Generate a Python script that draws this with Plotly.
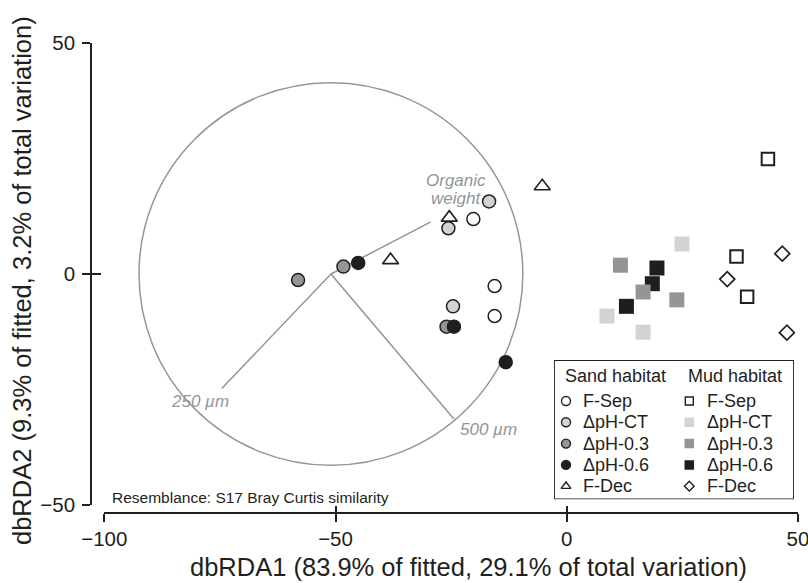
import plotly.graph_objects as go

# ---------------- data ----------------
sand_groups = ["F-Sep", "ΔpH-CT", "ΔpH-0.3", "ΔpH-0.6", "F-Dec"]
mud_groups = ["F-Sep", "ΔpH-CT", "ΔpH-0.3", "ΔpH-0.6", "F-Dec"]
legend_headers = ["Sand habitat", "Mud habitat"]

sand_fsep_x = [-20.2, -15.6, -15.6]
sand_fsep_y = [11.9, -2.6, -9.1]
sand_ct_x = [-16.8, -25.6, -24.6]
sand_ct_y = [15.7, 9.9, -7.0]
sand_03_x = [-58.1, -48.3, -26.0]
sand_03_y = [-1.3, 1.6, -11.4]
sand_06_x = [-45.1, -24.4, -13.2]
sand_06_y = [2.4, -11.4, -19.1]
sand_fdec_x = [-25.4, -5.3, -38.1]
sand_fdec_y = [12.2, 19.0, 3.0]

mud_fsep_x = [43.5, 36.7, 39.0]
mud_fsep_y = [24.9, 3.8, -4.9]
mud_ct_x = [24.9, 8.7, 16.5]
mud_ct_y = [6.5, -9.1, -12.6]
mud_03_x = [11.6, 16.5, 23.8]
mud_03_y = [1.9, -3.9, -5.6]
mud_06_x = [19.5, 18.5, 12.9]
mud_06_y = [1.3, -2.1, -7.0]
mud_fdec_x = [46.6, 34.7, 47.6]
mud_fdec_y = [4.4, -1.1, -12.7]

vector_labels = ["Organic weight", "250 µm", "500 µm"]
vector_x = [-29.4, -74.6, -24.4]
vector_y = [11.3, -24.8, -31.4]
circle_cx, circle_cy = -51.0, 0.0
circle_rx, circle_ry = 41.5, 41.4

x_ticks = [-100, -50, 0, 50]
y_ticks = [-50, 0, 50]
x_title = "dbRDA1 (83.9% of fitted, 29.1% of total variation)"
y_title = "dbRDA2 (9.3% of fitted, 3.2% of total variation)"
note = "Resemblance: S17 Bray Curtis similarity"

# ---------------- styles ----------------
FONT = "Liberation Sans, Arial, Helvetica, sans-serif"
DARK = "#231f20"
LIGHT = "#d1d3d4"
MID = "#939598"
BLACK = "#1e1e21"
WHITE = "#ffffff"

sand_style = {
    "F-Sep": dict(symbol="circle", color=WHITE, line=dict(color=DARK, width=1.5)),
    "ΔpH-CT": dict(symbol="circle", color=LIGHT, line=dict(color=DARK, width=1.5)),
    "ΔpH-0.3": dict(symbol="circle", color=MID, line=dict(color=DARK, width=1.5)),
    "ΔpH-0.6": dict(symbol="circle", color=BLACK, line=dict(color=DARK, width=1.5)),
    "F-Dec": dict(symbol="triangle-up", color=WHITE, line=dict(color=DARK, width=1.6)),
}
mud_style = {
    "F-Sep": dict(symbol="square", color=WHITE, line=dict(color=DARK, width=2)),
    "ΔpH-CT": dict(symbol="square", color=LIGHT, line=dict(color=LIGHT, width=0)),
    "ΔpH-0.3": dict(symbol="square", color=MID, line=dict(color=MID, width=0)),
    "ΔpH-0.6": dict(symbol="square", color=BLACK, line=dict(color=BLACK, width=0)),
    "F-Dec": dict(symbol="diamond", color=WHITE, line=dict(color=DARK, width=1.7)),
}
sand_size = {"F-Sep": 13, "ΔpH-CT": 13, "ΔpH-0.3": 13, "ΔpH-0.6": 13, "F-Dec": 14}
mud_size = {"F-Sep": 12.5, "ΔpH-CT": 15, "ΔpH-0.3": 15, "ΔpH-0.6": 15, "F-Dec": 11.5}

sand_data = {
    "F-Sep": (sand_fsep_x, sand_fsep_y),
    "ΔpH-CT": (sand_ct_x, sand_ct_y),
    "ΔpH-0.3": (sand_03_x, sand_03_y),
    "ΔpH-0.6": (sand_06_x, sand_06_y),
    "F-Dec": (sand_fdec_x, sand_fdec_y),
}
mud_data = {
    "F-Sep": (mud_fsep_x, mud_fsep_y),
    "ΔpH-CT": (mud_ct_x, mud_ct_y),
    "ΔpH-0.3": (mud_03_x, mud_03_y),
    "ΔpH-0.6": (mud_06_x, mud_06_y),
    "F-Dec": (mud_fdec_x, mud_fdec_y),
}
sand_order = ["F-Dec", "F-Sep", "ΔpH-CT", "ΔpH-0.3", "ΔpH-0.6"]
mud_order = ["F-Sep", "F-Dec", "ΔpH-0.6", "ΔpH-CT", "ΔpH-0.3"]

# ---------------- geometry ----------------
W, H = 808, 583
L, R, T, B = 91, 10, 43, 70
pw, ph = W - L - R, H - T - B


def px_x(p):
    return (p - L) / pw


def px_y(p):
    return (H - B - p) / ph


fig = go.Figure()

# vectors (under the points)
for lab, vx, vy in zip(vector_labels, vector_x, vector_y):
    fig.add_trace(go.Scatter(
        x=[circle_cx, vx], y=[circle_cy, vy], mode="lines",
        line=dict(color=MID, width=1.5), showlegend=False, hoverinfo="skip"))

for g in sand_order:
    xs, ys = sand_data[g]
    st = sand_style[g]
    fig.add_trace(go.Scatter(
        x=xs, y=ys, mode="markers", name="Sand " + g, showlegend=False,
        marker=dict(symbol=st["symbol"], color=st["color"], line=st["line"],
                    size=sand_size[g])))
for g in mud_order:
    xs, ys = mud_data[g]
    st = mud_style[g]
    fig.add_trace(go.Scatter(
        x=xs, y=ys, mode="markers", name="Mud " + g, showlegend=False,
        marker=dict(symbol=st["symbol"], color=st["color"], line=st["line"],
                    size=mud_size[g])))

# overlay axes carrying the inner half of the crossing ticks
fig.add_trace(go.Scatter(x=[None], y=[None], xaxis="x2", yaxis="y2",
                         showlegend=False, hoverinfo="skip"))

# ---------------- custom legend ----------------
LEG_W, LEG_H = 240, 139.3
col_sym = [12, 135.3]
col_txt = [26.5, 150.5]
row0, drow = 41, 21.3
legend_sym_size = {"circle": 9, "triangle-up": 8.5, "square": 9.5, "diamond": 7.5}

for ci, (groups, styles) in enumerate([(sand_groups, sand_style), (mud_groups, mud_style)]):
    for ri, g in enumerate(groups):
        st = styles[g]
        lw = st["line"]["width"]
        sz = legend_sym_size[st["symbol"]]
        if st["symbol"] == "square" and lw > 0:
            sz = 8
        fig.add_trace(go.Scatter(
            x=[col_sym[ci]], y=[row0 + ri * drow], xaxis="x3", yaxis="y3",
            mode="markers", showlegend=False, hoverinfo="skip",
            marker=dict(symbol=st["symbol"], color=st["color"], size=sz,
                        line=dict(color=st["line"]["color"], width=min(lw, 1.4)))))
        fig.add_annotation(
            x=col_txt[ci], y=row0 + ri * drow, xref="x3", yref="y3", text=g,
            showarrow=False, xanchor="left", yanchor="middle",
            font=dict(family=FONT, size=18, color=DARK))
    fig.add_annotation(
        x=[8.7, 131.7][ci], y=16, xref="x3", yref="y3", text=legend_headers[ci],
        showarrow=False, xanchor="left", yanchor="middle",
        font=dict(family=FONT, size=18, color=DARK))

fig.add_shape(type="rect", xref="x3", yref="y3", x0=0, x1=LEG_W, y0=0, y1=LEG_H,
              line=dict(color=DARK, width=1.8), fillcolor="rgba(0,0,0,0)")

# circle of correlations
fig.add_shape(type="circle", xref="x", yref="y", layer="below",
              x0=circle_cx - circle_rx, x1=circle_cx + circle_rx,
              y0=circle_cy - circle_ry, y1=circle_cy + circle_ry,
              line=dict(color=MID, width=1.5))

# vector labels
lab_font = dict(family=FONT, size=17, color=MID)
org_words = vector_labels[0].split(" ")
fig.add_annotation(x=-23.9, y=20.3, text="<i>%s</i>" % org_words[0], showarrow=False,
                   xanchor="center", yanchor="middle", font=lab_font)
fig.add_annotation(x=-23.9, y=16.3, text="<i>%s</i>" % org_words[1], showarrow=False,
                   xanchor="center", yanchor="middle", font=lab_font)
fig.add_annotation(x=-79.3, y=-27.6, text="<i>%s</i>" % vector_labels[1], showarrow=False,
                   xanchor="center", yanchor="middle", font=lab_font)
fig.add_annotation(x=-17.0, y=-33.6, text="<i>%s</i>" % vector_labels[2], showarrow=False,
                   xanchor="center", yanchor="middle", font=lab_font)

# resemblance note
fig.add_annotation(x=px_x(110), y=px_y(497.3), xref="paper", yref="paper", text=note,
                   showarrow=False, xanchor="left", yanchor="middle",
                   font=dict(family=FONT, size=15.5, color=DARK))

# axis titles
fig.add_annotation(x=px_x(468), y=px_y(567), xref="paper", yref="paper", text=x_title,
                   showarrow=False, xanchor="center", yanchor="middle",
                   font=dict(family=FONT, size=25.5, color=DARK))
fig.add_annotation(x=px_x(22), y=px_y(281), xref="paper", yref="paper", text=y_title,
                   showarrow=False, xanchor="center", yanchor="middle", textangle=-90,
                   font=dict(family=FONT, size=25.5, color=DARK))

axis_common = dict(showgrid=False, zeroline=False, anchor="free", position=0,
                   linecolor=DARK, linewidth=1.6, tickcolor=DARK, tickwidth=1.6,
                   ticklabeloverflow="allow",
                   tickfont=dict(family=FONT, size=20.5, color=DARK))
xdom = [px_x(104.3), 1]
ydom = [px_y(505), 1]

fig.update_layout(
    width=W, height=H, margin=dict(l=L, r=R, t=T, b=B, autoexpand=False),
    paper_bgcolor="white", plot_bgcolor="white", showlegend=False,
    xaxis=dict(domain=xdom, range=[-100, 50], tickvals=x_ticks, showline=True,
               ticks="outside", ticklen=8, **axis_common),
    yaxis=dict(domain=ydom, range=[-50, 50], tickvals=y_ticks, showline=True,
               ticks="outside", ticklen=8, ticklabelstandoff=3, **axis_common),
    xaxis2=dict(overlaying="x", domain=xdom, range=[-100, 50], tickvals=x_ticks,
                showline=False, ticks="inside", ticklen=7, showticklabels=False,
                **axis_common),
    yaxis2=dict(overlaying="y", domain=ydom, range=[-50, 50], tickvals=y_ticks,
                showline=False, ticks="inside", ticklen=9, showticklabels=False,
                **axis_common),
    xaxis3=dict(domain=[px_x(554), px_x(794)], range=[0, LEG_W], anchor="y3",
                visible=False, fixedrange=True),
    yaxis3=dict(domain=[px_y(499.3), px_y(360)], range=[LEG_H, 0], anchor="x3",
                visible=False, fixedrange=True),
)

fig.write_html(
    "out.html",
    config={"displayModeBar": False},
    post_script="document.body.style.margin='0';document.body.style.overflow='hidden';",
)
